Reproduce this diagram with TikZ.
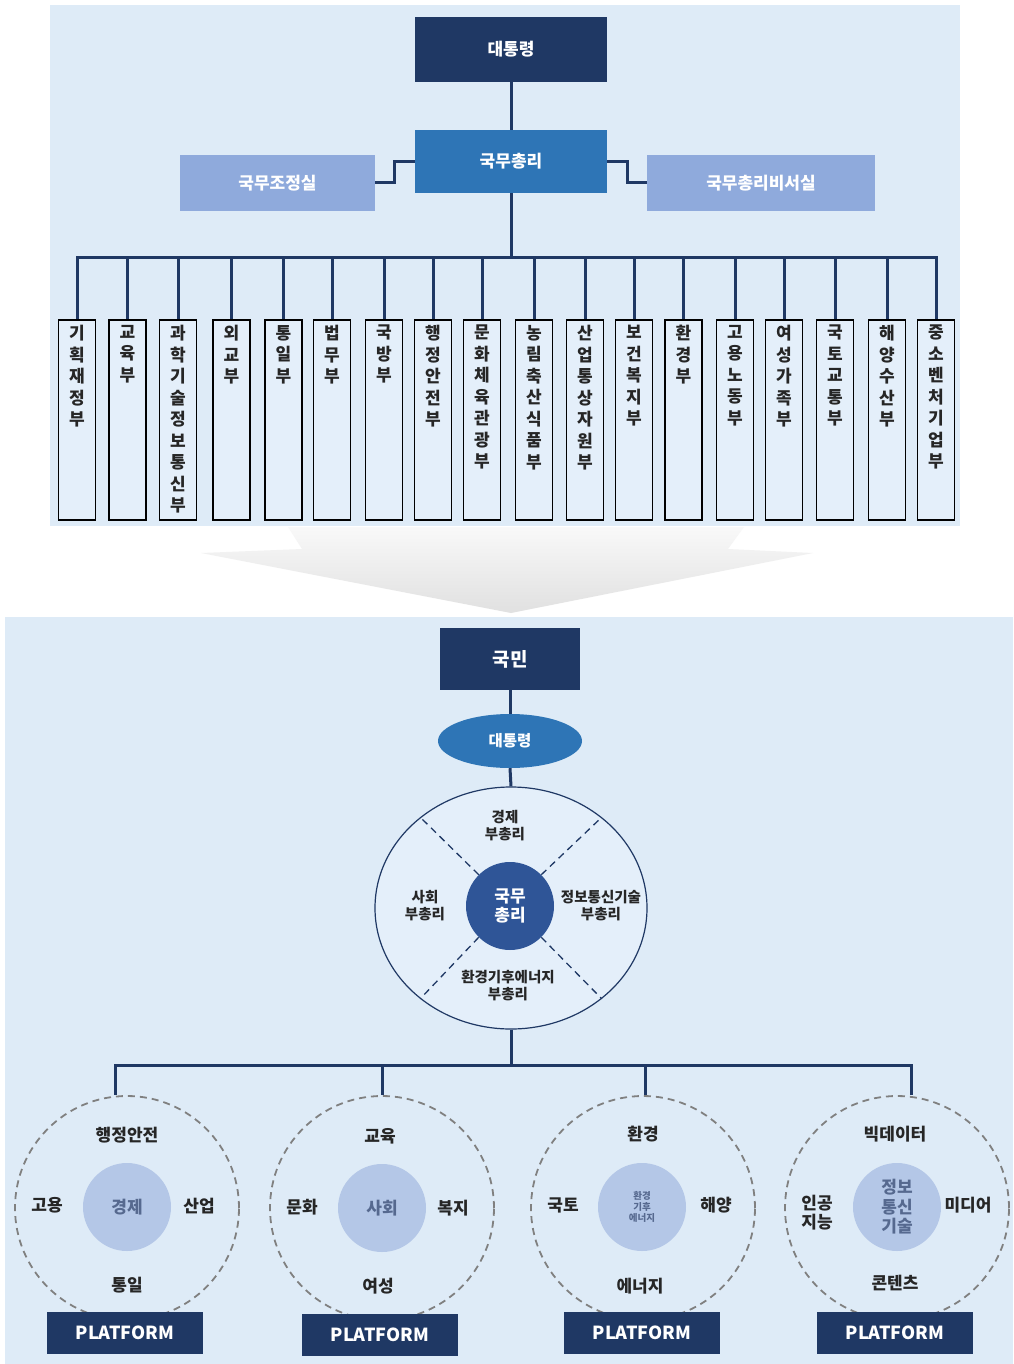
\documentclass[tikz,border=0pt]{standalone}
\usepackage{fontspec}
\setmainfont{Noto Sans CJK KR}
\usetikzlibrary{shapes.geometric,calc}
\definecolor{navy}{HTML}{1F3864}
\definecolor{midblue}{HTML}{2E75B6}
\definecolor{sideblue}{HTML}{8FAADC}
\definecolor{panel}{HTML}{DEEBF7}
\definecolor{boxfill}{HTML}{E4EFFA}
\definecolor{innerblue}{HTML}{2F5597}
\definecolor{pale}{HTML}{B4C7E7}
\definecolor{txt}{HTML}{262626}
\definecolor{soft}{HTML}{56698F}
\begin{document}
\begin{tikzpicture}[x=1pt,y=-1pt,
  conn/.style={draw=navy,line width=3pt},
  topbox/.style={rectangle,inner sep=0pt,text=white,font=\fontsize{17}{20}\selectfont\bfseries},
  ministry/.style={draw=black,line width=1.8pt,fill=boxfill,minimum width=37pt,minimum height=200pt,inner sep=0pt,anchor=north},
  mtext/.style={anchor=north,align=center,inner sep=0pt,text=txt,font=\fontsize{17}{21.5}\selectfont\bfseries},
  pmlabel/.style={align=center,inner sep=0pt,text=txt,font=\fontsize{14.5}{17}\selectfont\bfseries},
  divider/.style={draw=navy,line width=1.3pt,dash pattern=on 7pt off 5pt},
  dcircle/.style={circle,draw=gray,line width=1.8pt,dash pattern=on 7pt off 5pt,minimum size=224pt,inner sep=0pt},
  incircle/.style={circle,fill=pale,minimum size=88pt,inner sep=0pt,align=center,text=soft,font=\fontsize{17}{19}\selectfont\bfseries},
  blabel/.style={align=center,inner sep=0pt,text=txt,font=\fontsize{17}{19}\selectfont\bfseries},
  plat/.style={rectangle,fill=navy,text=white,minimum width=156pt,minimum height=42pt,inner sep=0pt,font=\fontsize{18}{20}\selectfont\bfseries}
]
\useasboundingbox (0,0) rectangle (1013,1364);
\fill[white] (0,0) rectangle (1013,1364);
% panels
\fill[panel] (50,5) rectangle (960,526);
\fill[panel] (5,617) rectangle (1013,1364);
% arrow
\shade[top color=white!95!gray,bottom color=white!76!gray]
  (288,527) -- (744,527) -- (728,549) -- (813,553) -- (511,613) -- (201,553) -- (302,549) -- cycle;

% ===== top chart =====
\node[topbox,fill=navy,minimum width=192pt,minimum height=65pt] (tp) at (511,49.5) {대통령};
\node[topbox,fill=midblue,minimum width=192pt,minimum height=63pt] (pm) at (511,161.5) {국무총리};
\node[topbox,fill=sideblue,minimum width=195pt,minimum height=56pt] (jo) at (277.5,183) {국무조정실};
\node[topbox,fill=sideblue,minimum width=228pt,minimum height=56pt] (bi) at (761,183) {국무총리비서실};
\draw[conn] (tp.south) -- (pm.north);
\draw[conn] (pm.west) -- ++(-20,0) |- (jo.east);
\draw[conn] (pm.east) -- ++(20,0) |- (bi.west);
\coordinate (bus) at (511,257);
\draw[conn] (pm.south) -- (bus);

\foreach \i/\x/\t in {
  1/77/{기\\획\\재\\정\\부},
  2/127.5/{교\\육\\부},
  3/178/{과\\학\\기\\술\\정\\보\\통\\신\\부},
  4/231.5/{외\\교\\부},
  5/283.5/{통\\일\\부},
  6/332/{법\\무\\부},
  7/384/{국\\방\\부},
  8/433/{행\\정\\안\\전\\부},
  9/482/{문\\화\\체\\육\\관\\광\\부},
  10/534/{농\\림\\축\\산\\식\\품\\부},
  11/585/{산\\업\\통\\상\\자\\원\\부},
  12/634/{보\\건\\복\\지\\부},
  13/683.5/{환\\경\\부},
  14/735/{고\\용\\노\\동\\부},
  15/784/{여\\성\\가\\족\\부},
  16/835/{국\\토\\교\\통\\부},
  17/887/{해\\양\\수\\산\\부},
  18/936/{중\\소\\벤\\처\\기\\업\\부}} {
  \node[ministry] (m\i) at (\x,319) {};
  \node[mtext] (t\i) at ([yshift=-6pt]m\i.north) {\t};
  \draw[conn] (bus) -| (m\i.north);
}

% ===== bottom chart =====
\node[topbox,fill=navy,minimum width=140pt,minimum height=62pt,font=\fontsize{19}{21}\selectfont\bfseries] (people) at (510,659) {국민};
\node[ellipse,fill=midblue,minimum width=144pt,minimum height=54pt,inner sep=0pt,text=white,font=\fontsize{15.5}{18}\selectfont\bfseries] (pres) at (510,741) {대통령};
\node[ellipse,draw=navy,line width=1.2pt,fill=boxfill,minimum width=272pt,minimum height=242pt,inner sep=0pt] (big) at (511,908) {};
\draw[conn] (people.south) -- (pres.north);
\draw[conn] (pres.south) -- (big.north);
\node[circle,minimum size=88pt,inner sep=0pt] (icg) at (510,906) {};
\draw[divider] (icg.135) -- (big.135);
\draw[divider] (icg.45) -- (big.45);
\draw[divider] (icg.225) -- (big.225);
\draw[divider] (icg.315) -- (big.315);
\node[circle,fill=innerblue,minimum size=88pt,inner sep=0pt,align=center,text=white,font=\fontsize{17}{19}\selectfont\bfseries] (ic) at (510,906) {국무\\총리};
\node[pmlabel] (dp1) at (505,826) {경제\\부총리};
\node[pmlabel] (dp2) at (425,906) {사회\\부총리};
\node[pmlabel] (dp3) at (601,906) {정보통신기술\\부총리};
\node[pmlabel] (dp4) at (508,986) {환경기후에너지\\부총리};

% dashed platform circles
\node[dcircle] (dc1) at (127,1208) {};
\node[dcircle] (dc2) at (382,1208) {};
\node[dcircle] (dc3) at (643,1208) {};
\node[dcircle] (dc4) at (897,1208) {};
\coordinate (bbus) at (511,1065);
\draw[conn] (big.south) -- (bbus);
\draw[conn] (bbus) -| ([xshift=-12pt]dc1.north);
\draw[conn] (bbus) -| (dc2.north);
\draw[conn] (bbus) -| ([xshift=2pt]dc3.north);
\draw[conn] (bbus) -| ([xshift=14pt]dc4.north);

\node[incircle] (c1) at (127,1207) {경제};
\node[incircle] (c2) at (382,1208) {사회};
\node[incircle,font=\fontsize{9.5}{11}\selectfont\bfseries] (c3) at (642,1207) {환경\\기후\\에너지};
\node[incircle,font=\fontsize{17}{19.5}\selectfont\bfseries] (c4) at (897,1207) {정보\\통신\\기술};

\node[blabel] (l11) at (127,1135) {행정안전};
\node[blabel] (l12) at (47,1205) {고용};
\node[blabel] (l13) at (199,1206) {산업};
\node[blabel] (l14) at (127,1285) {통일};

\node[blabel] (l21) at (380,1136) {교육};
\node[blabel] (l22) at (302,1207) {문화};
\node[blabel] (l23) at (453,1208) {복지};
\node[blabel] (l24) at (378,1286) {여성};

\node[blabel] (l31) at (643,1134) {환경};
\node[blabel] (l32) at (563,1205) {국토};
\node[blabel] (l33) at (716,1205) {해양};
\node[blabel] (l34) at (640,1286) {에너지};

\node[blabel] (l41) at (895,1134) {빅데이터};
\node[blabel] (l42) at (817,1213) {인공\\지능};
\node[blabel] (l43) at (968,1205) {미디어};
\node[blabel] (l44) at (895,1283) {콘텐츠};

\node[plat] (p1) at (125,1333) {PLATFORM};
\node[plat] (p2) at (380,1334.5) {PLATFORM};
\node[plat] (p3) at (642,1333) {PLATFORM};
\node[plat] (p4) at (895,1333) {PLATFORM};
\end{tikzpicture}
\end{document}
